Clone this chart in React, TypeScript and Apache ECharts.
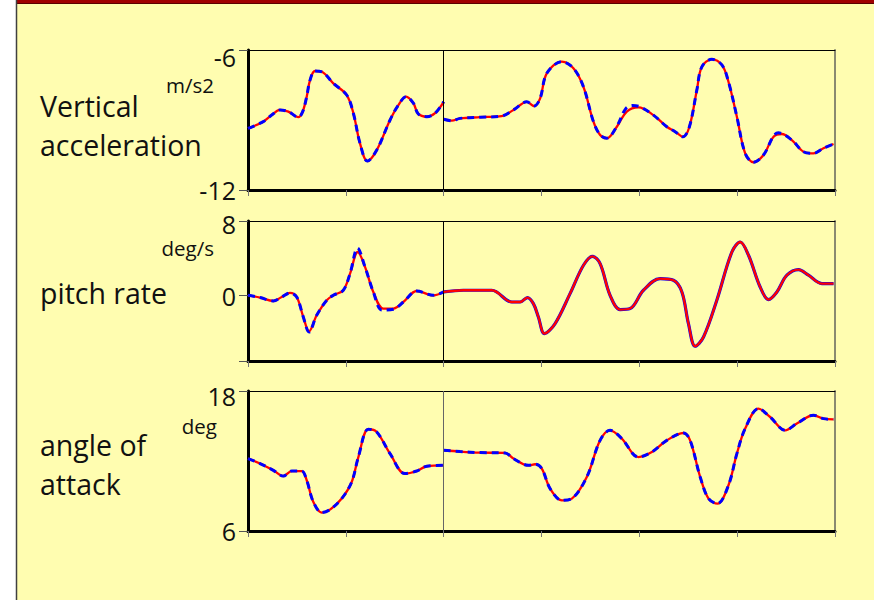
import React, { useEffect, useRef } from "react";
import * as echarts from "echarts";

// ---------- data (x in time units 0..6, y in the unit of each panel) ----------
const xTicks = { min: 0, max: 6, step: 1, divider: 2 };

// Vertical acceleration (m/s2)
const accelModel1: number[][] = [
  [0, -9.36], [0.156, -9.07], [0.242, -8.79], [0.327, -8.57], [0.412, -8.64], [0.514, -8.88],
  [0.559, -8.64], [0.6, -8.0], [0.634, -7.29], [0.685, -6.9], [0.77, -6.97], [0.872, -7.43],
  [1.009, -7.93], [1.077, -8.71], [1.145, -10.0], [1.22, -10.76], [1.316, -10.29], [1.452, -9.0],
  [1.537, -8.36], [1.616, -8.0], [1.69, -8.28], [1.741, -8.74], [1.827, -8.86], [1.912, -8.71],
  [2.0, -8.22],
];
const accelMeas1 = accelModel1;
const accelModel2: number[][] = [
  [2.0, -8.97], [2.083, -9.03], [2.168, -8.93], [2.372, -8.88], [2.594, -8.83], [2.713, -8.57],
  [2.85, -8.22], [2.924, -8.4], [2.986, -8.07], [3.054, -7.0], [3.208, -6.5], [3.326, -6.78],
  [3.428, -7.57], [3.531, -9.07], [3.599, -9.64], [3.668, -9.78], [3.77, -9.29], [3.872, -8.64],
  [3.991, -8.46], [4.144, -8.79], [4.281, -9.29], [4.366, -9.5], [4.445, -9.72], [4.512, -9.29],
  [4.588, -7.71], [4.639, -6.72], [4.741, -6.4], [4.844, -6.64], [4.911, -7.36], [4.997, -8.86],
  [5.082, -10.43], [5.167, -10.81], [5.269, -10.5], [5.372, -9.72], [5.457, -9.6], [5.559, -9.86],
  [5.678, -10.36], [5.78, -10.43], [5.882, -10.21], [5.985, -10.03],
];
const accelMeas2: number[][] = [
  [2.0, -8.97], [2.083, -9.03], [2.168, -8.93], [2.372, -8.88], [2.594, -8.83], [2.713, -8.57],
  [2.85, -8.22], [2.924, -8.4], [2.986, -8.07], [3.054, -7.0], [3.208, -6.5], [3.326, -6.78],
  [3.428, -7.57], [3.531, -9.07], [3.599, -9.64], [3.668, -9.78], [3.77, -9.27], [3.86, -8.52],
  [3.93, -8.38], [4.01, -8.44], [4.144, -8.79], [4.281, -9.29], [4.366, -9.5], [4.445, -9.72],
  [4.512, -9.29], [4.588, -7.71], [4.639, -6.72], [4.741, -6.4], [4.844, -6.64], [4.911, -7.36],
  [4.997, -8.86], [5.082, -10.43], [5.167, -10.81], [5.269, -10.5], [5.372, -9.68], [5.42, -9.55],
  [5.559, -9.86], [5.678, -10.36], [5.78, -10.43], [5.882, -10.21], [5.985, -10.03],
];

// Pitch rate (deg/s)
const pitchModel1: number[][] = [
  [0, 0.04], [0.123, -0.2], [0.259, -0.57], [0.345, -0.14], [0.429, 0.29], [0.498, -0.14],
  [0.565, -2.28], [0.624, -3.81], [0.702, -2.1], [0.805, -0.49], [0.872, 0.04], [0.974, 0.58],
  [1.043, 2.37], [1.122, 4.68], [1.196, 3.08], [1.281, 0.4], [1.383, -1.38], [1.486, -1.38],
  [1.588, -0.68], [1.725, 0.5], [1.895, 0.04], [2.0, 0.4],
];
const pitchMeas1: number[][] = [
  [0, 0.04], [0.123, -0.2], [0.259, -0.57], [0.345, -0.14], [0.429, 0.29], [0.498, -0.14],
  [0.565, -2.28], [0.624, -3.9], [0.702, -2.1], [0.805, -0.49], [0.872, 0.04], [0.974, 0.58],
  [1.043, 2.37], [1.12, 5.1], [1.196, 3.08], [1.281, 0.4], [1.37, -1.55], [1.486, -1.45],
  [1.588, -0.68], [1.725, 0.5], [1.895, 0.04], [2.0, 0.4],
];
const pitchModel2: number[][] = [
  [2.0, 0.4], [2.201, 0.58], [2.492, 0.58], [2.696, -0.68], [2.781, -0.68], [2.856, -0.2],
  [2.917, -0.85], [2.968, -2.28], [3.03, -4.06], [3.139, -2.99], [3.292, 0.22], [3.429, 3.26],
  [3.521, 4.22], [3.599, 3.44], [3.701, 0.04], [3.804, -1.49], [3.906, -1.38], [4.042, 0.58],
  [4.213, 1.83], [4.349, 1.65], [4.435, 0.4], [4.502, -2.99], [4.571, -5.42], [4.656, -4.43],
  [4.792, -0.49], [4.946, 4.68], [5.031, 5.75], [5.116, 4.33], [5.235, 0.93], [5.32, -0.42],
  [5.406, 0.4], [5.508, 2.19], [5.627, 2.8], [5.729, 2.19], [5.866, 1.3], [5.985, 1.3],
];
const pitchMeas2 = pitchModel2;

// Angle of attack (deg)
const aoaModel1: number[][] = [
  [0, 12.21], [0.123, 11.78], [0.259, 11.2], [0.361, 10.71], [0.447, 11.14], [0.549, 11.14],
  [0.6, 10.35], [0.668, 8.49], [0.754, 7.58], [0.838, 7.83], [0.958, 8.78], [1.06, 10.2],
  [1.128, 12.34], [1.23, 14.72], [1.316, 14.49], [1.452, 12.63], [1.605, 10.92], [1.725, 11.14],
  [1.827, 11.55], [2.0, 11.63],
];
const aoaMeas1 = aoaModel1;
const aoaModel2: number[][] = [
  [2.0, 12.92], [2.168, 12.81], [2.372, 12.72], [2.628, 12.69], [2.713, 12.21], [2.866, 11.63],
  [2.935, 11.72], [3.003, 11.35], [3.088, 9.63], [3.208, 8.63], [3.31, 8.78], [3.463, 10.63],
  [3.599, 13.77], [3.701, 14.63], [3.821, 13.92], [3.991, 12.34], [4.128, 12.77], [4.281, 13.77],
  [4.451, 14.4], [4.519, 13.77], [4.622, 10.63], [4.707, 8.78], [4.799, 8.35], [4.911, 9.92],
  [4.997, 12.63], [5.082, 14.78], [5.218, 16.49], [5.337, 15.77], [5.491, 14.63], [5.61, 15.21],
  [5.78, 15.92], [5.882, 15.63], [5.985, 15.57],
];
const aoaMeas2 = aoaModel2;

// axis ranges and labelled ticks
const accelRange = { min: -12, max: -6 };
const accelTicks = [-12, -6];
const pitchRange = { min: -7, max: 8 };
const pitchTicks = [-7, 0, 8];
const pitchLabels = [0, 8];
const aoaRange = { min: 6, max: 18 };
const aoaTicks = [6, 18];

const panelTitles = [["Vertical", "acceleration"], ["pitch rate"], ["angle of", "attack"]];
const panelUnits = ["m/s2", "deg/s", "deg"];

// ---------- styling ----------
const FONT = '"Open Sans", "Noto Sans", sans-serif';
const BG = "#FFFDB0";
const RED = "#FF0000";
const BLUE = "#0000FF";

type Panel = {
  top: number;
  range: { min: number; max: number };
  ticks: number[];
  labels: number[];
  shift: number;
  meas: number[][][];
  model: number[][][];
  dividerColor: string;
  blueOnTop: boolean[];
};

export default function App() {
  const ref = useRef<HTMLDivElement>(null);

  useEffect(() => {
    if (!ref.current) return;
    const chart = echarts.init(ref.current, undefined, { renderer: "svg" });

    const panels: Panel[] = [
      {
        top: 50, range: accelRange, ticks: accelTicks, labels: accelTicks, shift: 14,
        meas: [accelMeas1, accelMeas2], model: [accelModel1, accelModel2], dividerColor: "#000",
        blueOnTop: [true, true],
      },
      {
        top: 221, range: pitchRange, ticks: pitchTicks, labels: pitchLabels, shift: 5,
        meas: [pitchMeas1, pitchMeas2], model: [pitchModel1, pitchModel2], dividerColor: "#000",
        blueOnTop: [true, false],
      },
      {
        top: 391, range: aoaRange, ticks: aoaTicks, labels: aoaTicks, shift: 10,
        meas: [aoaMeas1, aoaMeas2], model: [aoaModel1, aoaModel2], dividerColor: "#666",
        blueOnTop: [true, true],
      },
    ];

    const grids: any[] = [];
    const xAxes: any[] = [];
    const yAxes: any[] = [];
    const series: any[] = [];

    panels.forEach((p, i) => {
      grids.push({ left: 248, top: p.top, width: 587, height: 140, containLabel: false });
      xAxes.push({
        type: "value", gridIndex: i, position: "bottom",
        min: xTicks.min, max: xTicks.max, interval: xTicks.step,
        axisLine: { show: true, onZero: false, lineStyle: { color: "#000", width: 3 } },
        axisTick: { show: true, length: 6, lineStyle: { color: "#777", width: 1 } },
        axisLabel: { show: false }, splitLine: { show: false },
      });
      xAxes.push({
        type: "value", gridIndex: i, position: "top",
        min: xTicks.min, max: xTicks.max,
        axisLine: { show: true, onZero: false, lineStyle: { color: "#000", width: 1 } },
        axisTick: { show: false }, axisLabel: { show: false }, splitLine: { show: false },
      });
      yAxes.push({
        type: "value", gridIndex: i, position: "left",
        min: p.range.min, max: p.range.max,
        axisLine: { show: true, onZero: false, lineStyle: { color: "#000", width: 3 } },
        axisTick: { show: true, length: 9, customValues: p.ticks, lineStyle: { color: "#555", width: 1 } },
        axisLabel: {
          show: true, customValues: p.labels, margin: 12,
          formatter: (v: number) => (v === p.range.max ? `{t|${v}}` : `{n|${v}}`),
          rich: {
            t: { fontSize: 25, fontFamily: FONT, color: "#111", padding: [p.shift, 0, 0, 0] },
            n: { fontSize: 25, fontFamily: FONT, color: "#111" },
          },
        },
        splitLine: { show: false },
      });
      yAxes.push({
        type: "value", gridIndex: i, position: "right",
        min: p.range.min, max: p.range.max,
        axisLine: { show: true, onZero: false, lineStyle: { color: "#8A8A70", width: 2 } },
        axisTick: { show: false }, axisLabel: { show: false }, splitLine: { show: false },
      });

      [0, 1].forEach((s) => {
        const blueZ = p.blueOnTop[s] ? 4 : 2;
        const redZ = p.blueOnTop[s] ? 3 : 5;
        series.push({
          type: "line", xAxisIndex: 2 * i, yAxisIndex: 2 * i, data: p.model[s],
          smooth: 0.35, showSymbol: false, symbol: "none", z: redZ, silent: true,
          lineStyle: { color: RED, width: 2.3, type: "solid" },
          markLine: s === 0 ? {
            silent: true, symbol: ["none", "none"], label: { show: false },
            lineStyle: { color: p.dividerColor, width: 1, type: "solid" },
            data: [{ xAxis: xTicks.divider }],
          } : undefined,
        });
        series.push({
          type: "line", xAxisIndex: 2 * i, yAxisIndex: 2 * i, data: p.meas[s],
          smooth: 0.35, showSymbol: false, symbol: "none", z: blueZ, silent: true,
          lineStyle: p.blueOnTop[s]
            ? { color: BLUE, width: 3, type: [7, 5] }
            : { color: BLUE, width: 3.2, type: "solid" },
        });
      });
    });

    const titleYs = [[106, 145], [293], [445, 484]];
    const unitPos = [[214, 85], [214, 248], [217, 426]];

    const graphics: any[] = [
      { type: "rect", shape: { x: 0, y: 0, width: 16, height: 600 }, style: { fill: "#FFFFFF" }, z: -10 },
      { type: "rect", shape: { x: 16, y: 0, width: 858, height: 600 }, style: { fill: BG }, z: -10 },
      { type: "rect", shape: { x: 16, y: 0, width: 858, height: 3 }, style: { fill: "#A00000" }, z: 10 },
      { type: "line", shape: { x1: 16, y1: 3.5, x2: 874, y2: 3.5 }, style: { stroke: "#5A0000", lineWidth: 1 }, z: 10 },
      { type: "line", shape: { x1: 16.5, y1: 0, x2: 16.5, y2: 600 }, style: { stroke: "#404040", lineWidth: 1.5 }, z: 10 },
    ];
    panelTitles.forEach((lines, i) => {
      lines.forEach((t, j) => {
        graphics.push({
          type: "text", x: 40, y: titleYs[i][j],
          style: { text: t, font: `28.5px ${FONT}`, fill: "#111", align: "left", verticalAlign: "middle" },
        });
      });
      graphics.push({
        type: "text", x: unitPos[i][0], y: unitPos[i][1],
        style: { text: panelUnits[i], font: `20.5px ${FONT}`, fill: "#111", align: "right", verticalAlign: "middle" },
      });
    });

    chart.setOption({
      animation: false,
      backgroundColor: "transparent",
      grid: grids,
      xAxis: xAxes,
      yAxis: yAxes,
      series,
      graphic: graphics,
    });

    return () => chart.dispose();
  }, []);

  return (
    <div
      ref={ref}
      style={{ position: "absolute", left: 0, top: 0, width: 874, height: 600 }}
    />
  );
}
